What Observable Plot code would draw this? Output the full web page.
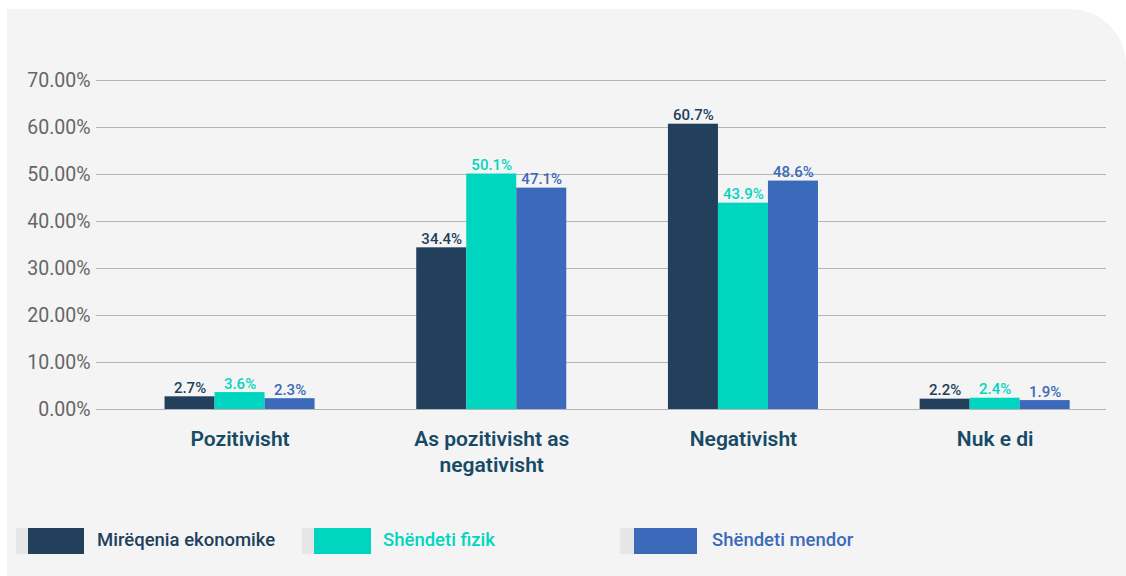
<!DOCTYPE html>
<html>
<head>
<meta charset="utf-8">
<script src="https://cdn.jsdelivr.net/npm/d3@7"></script>
<script src="https://cdn.jsdelivr.net/npm/@observablehq/plot@0.6"></script>
<style>
  html, body { margin: 0; padding: 0; background: #ffffff; }
  #wrap { position: relative; width: 1126px; height: 576px; overflow: hidden; font-family: Roboto, "Noto Sans", sans-serif; }
  #panel { position: absolute; left: 7px; top: 9px; width: 1119px; height: 567px; background: #f4f4f4; border-top-right-radius: 56px; }
  #chart { position: absolute; left: 0; top: 0; }
  #legend { position: absolute; left: 0; top: 528px; width: 1126px; height: 26px; }
  .item { position: absolute; top: 0; height: 26px; display: flex; align-items: center; }
  .sw-gray { height: 26px; background: #e6e6e6; }
  .sw { height: 26px; }
  .lab { font-size: 18.5px; font-weight: 500; white-space: nowrap; margin-top: -2px; }
</style>
</head>
<body>
<div id="wrap">
  <div id="panel"></div>
  <div id="chart"></div>
  <div id="legend"></div>
</div>
<script>
const categories = ["Pozitivisht", "As pozitivisht as negativisht", "Negativisht", "Nuk e di"];
const categoryLabels = ["Pozitivisht", "As pozitivisht as\nnegativisht", "Negativisht", "Nuk e di"];
const seriesNames = ["Mirëqenia ekonomike", "Shëndeti fizik", "Shëndeti mendor"];
const seriesColors = ["#223f5c", "#00d6bf", "#3b6aba"];
const mireqenia = [2.7, 34.4, 60.7, 2.2];
const fizik = [3.6, 50.1, 43.9, 2.4];
const mendor = [2.3, 47.1, 48.6, 1.9];
const yTicks = [0, 10, 20, 30, 40, 50, 60, 70];

const seriesValues = [mireqenia, fizik, mendor];
const rows = [];
seriesValues.forEach((vals, s) => vals.forEach((v, i) => rows.push({category: categories[i], series: seriesNames[s], si: s, value: v})));

// layout: band width 150 → each bar 50
const barW = 50;
const marks = [
  Plot.gridY(yTicks, {stroke: "#b5b5b5", strokeOpacity: 1, strokeWidth: 1.2}),
  Plot.axisY(yTicks, {tickSize: 0, tickPadding: 6, tickFormat: d => d.toFixed(2) + "%", fontSize: 19.5, fill: "#666666", label: null}),
  Plot.axisX({tickSize: 0, tickPadding: 19, tickFormat: d => categoryLabels[categories.indexOf(d)], fontSize: 21, fontWeight: 600, fill: "#174a66", lineHeight: 1.2, label: null})
];
seriesNames.forEach((name, s) => {
  const data = rows.filter(r => r.si === s);
  marks.push(Plot.barY(data, {
    x: "category", y: "value", fill: seriesColors[s],
    insetLeft: s * barW, insetRight: (2 - s) * barW
  }));
  marks.push(Plot.text(data, {
    x: "category", y: "value", text: d => d.value.toFixed(1) + "%",
    dx: (s - 1) * barW, dy: -4, lineAnchor: "bottom",
    fill: seriesColors[s], fontSize: 15, fontWeight: 500
  }));
});

const plot = Plot.plot({
  width: 1126,
  height: 500,
  marginLeft: 96,
  marginRight: 20,
  marginTop: 80,
  marginBottom: 91,
  style: {background: "transparent", fontFamily: "Roboto, 'Noto Sans', sans-serif", overflow: "visible"},
  x: {domain: categories, range: [113.7, 1120.5], paddingInner: 0.404, paddingOuter: 0.202, round: false, axis: null},
  y: {domain: [0, 70], axis: null},
  marks
});
document.getElementById("chart").appendChild(plot);

// legend
const legendPos = [
  {left: 16, gray: 12, col: 56, gap: 13},
  {left: 302, gray: 12, col: 57, gap: 12},
  {left: 620, gray: 14, col: 63, gap: 15}
];
const legend = document.getElementById("legend");
seriesNames.forEach((name, s) => {
  const p = legendPos[s];
  const item = document.createElement("div");
  item.className = "item";
  item.style.left = p.left + "px";
  item.innerHTML = `<div class="sw-gray" style="width:${p.gray}px"></div><div class="sw" style="width:${p.col}px;background:${seriesColors[s]}"></div><div class="lab" style="margin-left:${p.gap}px;color:${seriesColors[s]}">${name}</div>`;
  legend.appendChild(item);
});
</script>
</body>
</html>
